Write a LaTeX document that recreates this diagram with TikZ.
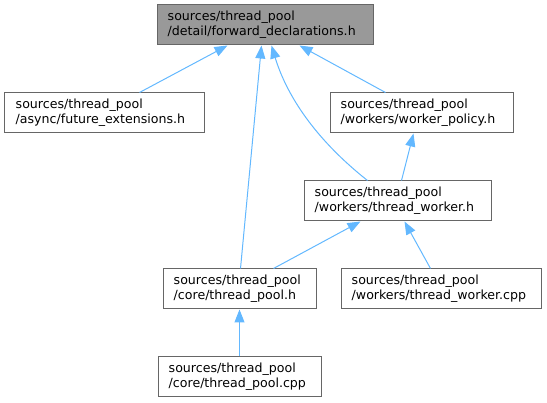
\documentclass[tikz,border=0pt]{standalone}
\usepackage{fontspec}
\setmainfont{DejaVu Sans}
\usetikzlibrary{arrows.meta,calc}
\definecolor{edgeblue}{HTML}{63B8FF}
\definecolor{boxborder}{HTML}{666666}
\definecolor{topfill}{HTML}{999999}
\tikzset{
  filebox/.style={draw=boxborder, line width=1pt, fill=white, rectangle, inner sep=0pt, minimum height=40pt},
  focusbox/.style={filebox, fill=topfill},
  lbl/.style={anchor=west, align=left, inner sep=0pt, font=\fontsize{12.6pt}{15.3pt}\selectfont},
  dep/.style={draw=edgeblue, line width=1pt, -{Triangle[length=13pt,width=10pt,fill=edgeblue]}},
}
\begin{document}
\begin{tikzpicture}[x=1pt,y=-1pt]
\useasboundingbox (0,0) rectangle (547,403);
% boxes
\node[focusbox, minimum width=216pt] (top) at (265,25) {};
\node[filebox, minimum width=200pt] (fut) at (104,113) {};
\node[filebox, minimum width=183pt] (pol) at (421.5,113) {};
\node[filebox, minimum width=187pt] (tw) at (397.5,201) {};
\node[filebox, minimum width=153pt] (tph) at (239.5,289) {};
\node[filebox, minimum width=200pt] (twc) at (441,289) {};
\node[filebox, minimum width=163pt] (tpc) at (239.5,377) {};
% labels
\node[lbl] (topT) at ([xshift=11pt]top.west) {sources/thread\_pool\\/detail/forward\_declarations.h};
\node[lbl] (futT) at ([xshift=12pt]fut.west) {sources/thread\_pool\\/async/future\_extensions.h};
\node[lbl] (polT) at ([xshift=11pt]pol.west) {sources/thread\_pool\\/workers/worker\_policy.h};
\node[lbl] (twT) at ([xshift=11pt]tw.west) {sources/thread\_pool\\/workers/thread\_worker.h};
\node[lbl] (tphT) at ([xshift=11pt]tph.west) {sources/thread\_pool\\/core/thread\_pool.h};
\node[lbl] (twcT) at ([xshift=11pt]twc.west) {sources/thread\_pool\\/workers/thread\_worker.cpp};
\node[lbl] (tpcT) at ([xshift=11pt]tpc.west) {sources/thread\_pool\\/core/thread\_pool.cpp};
% edges (arrowhead at the included file)
\draw[dep] ([xshift=136pt]fut.north west) -- ([xshift=71pt]top.south west);
\draw[dep] ([xshift=78pt]tph.north west) -- ([xshift=105pt]top.south west);
\draw[dep] ([xshift=64pt]tw.north west) .. controls (310,135) and (285,90) .. ([xshift=115pt]top.south west);
\draw[dep] ([xshift=56pt]pol.north west) -- ([xshift=143pt]top.south west);
\draw[dep] ([xshift=98pt]tw.north west) -- ([xshift=84pt]pol.south west);
\draw[dep] ([xshift=111pt]tph.north west) -- ([xshift=57pt]tw.south west);
\draw[dep] ([xshift=90pt]twc.north west) -- ([xshift=101pt]tw.south west);
\draw[dep] (tpc.north) -- (tph.south);
\end{tikzpicture}
\end{document}
